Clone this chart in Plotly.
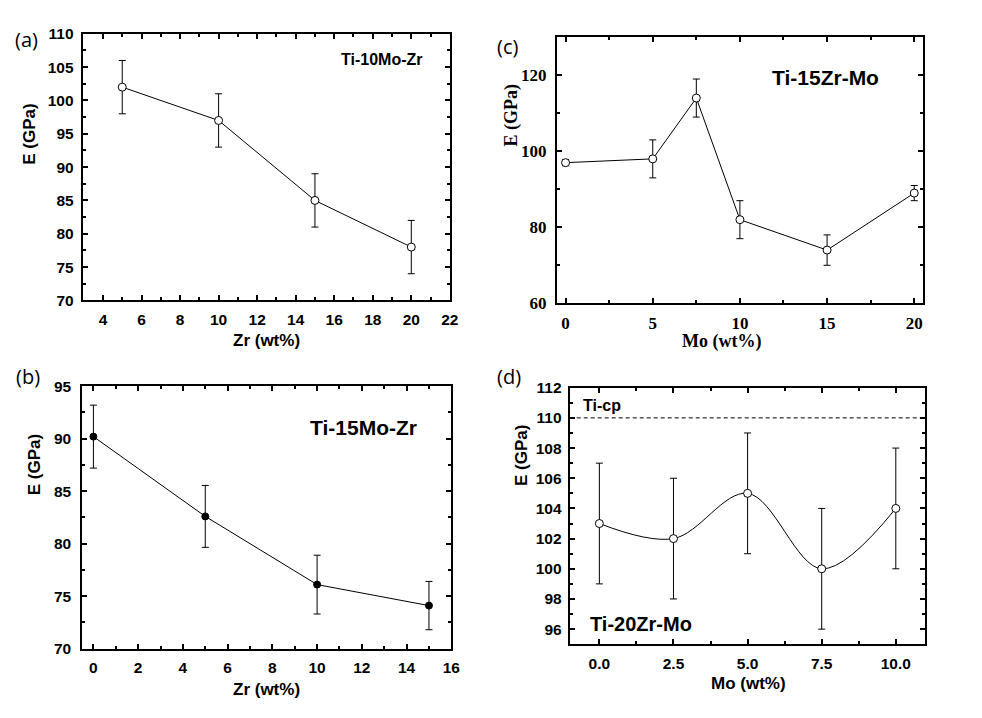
import plotly.graph_objects as go

W, H = 982, 718

# ---------------- data ----------------
# (a) Ti-10Mo-Zr
a_zr = [5, 10, 15, 20]
a_E = [102, 97, 85, 78]
a_err = [4, 4, 4, 4]

# (b) Ti-15Mo-Zr
b_zr = [0, 5, 10, 15]
b_E = [90.2, 82.6, 76.1, 74.1]
b_err = [3.0, 2.95, 2.8, 2.3]

# (c) Ti-15Zr-Mo
c_mo = [0, 5, 7.5, 10, 15, 20]
c_E = [97, 98, 114, 82, 74, 89]
c_err = [0.8, 5, 5, 5, 4, 2]

# (d) Ti-20Zr-Mo
d_mo = [0, 2.5, 5, 7.5, 10]
d_E = [103, 102, 105, 100, 104]
d_err = [4, 4, 4, 4, 4]
ti_cp = 110

# ---------------- helpers ----------------
def px(x):
    return x / W

def py(y):
    return 1 - y / H

SANS = "Liberation Sans"
SERIF = "Liberation Serif"

fig = go.Figure()

def add_series(x, y, err, xa, ya, filled=False, shape="linear", msize=8):
    fig.add_trace(go.Scatter(
        x=x, y=y, xaxis=xa, yaxis=ya, mode="lines+markers",
        line=dict(color="black", width=1, shape=shape),
        marker=dict(symbol="circle", size=msize,
                    color="black" if filled else "white",
                    line=dict(color="black", width=1)),
        error_y=dict(type="data", array=err, color="black", thickness=1, width=3.5),
        showlegend=False, hoverinfo="x+y"))

add_series(a_zr, a_E, a_err, "x", "y")
add_series(c_mo, c_E, c_err, "x2", "y2")
add_series(b_zr, b_E, b_err, "x3", "y3", filled=True, msize=7)
add_series(d_mo, d_E, d_err, "x4", "y4", shape="spline")


def axis(domain, anchor, rng, dtick, minor_dtick, family, size, tick0=None, fmt=None, standoff=4):
    d = dict(
        domain=domain, anchor=anchor, range=rng, dtick=dtick,
        showline=True, linewidth=2, linecolor="black", mirror="allticks",
        ticks="inside", ticklen=5, tickwidth=2, tickcolor="black",
        showgrid=False, zeroline=False,
        tickfont=dict(family=family, size=size, color="black", weight="bold"),
        minor=dict(ticks="inside", ticklen=3, tickwidth=1.5, tickcolor="black",
                   dtick=minor_dtick, showgrid=False),
        ticklabelstandoff=standoff,
    )
    if tick0 is not None:
        d["tick0"] = tick0
    if fmt is not None:
        d["tickformat"] = fmt
    return d

# panel frames (pixel positions)
A = dict(l=83.5, r=454, t=25.5, b=299.3)
C = dict(l=562, r=931.5, t=29, b=302.3)
B = dict(l=83, r=455.5, t=387.5, b=657)
D = dict(l=575, r=934, t=389, b=652.5)

def xd(p):
    return [px(p["l"]), px(p["r"])]

def yd(p):
    return [py(p["b"]), py(p["t"])]

layout = dict(
    width=W, height=H, margin=dict(l=0, r=0, t=0, b=0),
    paper_bgcolor="white", plot_bgcolor="white", showlegend=False,
    xaxis=axis(xd(A), "y", [2.95, 22], 2, 1, SANS, 15.5, tick0=0, standoff=4),
    yaxis=axis(yd(A), "x", [70, 110], 5, 2.5, SANS, 15.5, tick0=0, standoff=4),
    xaxis2=axis(xd(C), "y2", [-0.5, 20.5], 5, 2.5, SERIF, 17, tick0=0, standoff=3),
    yaxis2=axis(yd(C), "x2", [60, 130], 20, 10, SERIF, 17, tick0=0, standoff=5),
    xaxis3=axis(xd(B), "y3", [-0.5, 16], 2, 1, SANS, 15.5, tick0=0, standoff=4),
    yaxis3=axis(yd(B), "x3", [70, 95], 5, 2.5, SANS, 15.5, tick0=0, standoff=6),
    xaxis4=axis(xd(D), "y4", [-1, 11], 2.5, 1.25, SANS, 15.5, tick0=0, fmt=".1f", standoff=4),
    yaxis4=axis(yd(D), "x4", [95, 112], 2, 1, SANS, 15.5, tick0=0, standoff=3),
)
fig.update_layout(**layout)

# Ti-cp reference line
fig.add_shape(type="line", xref="x4 domain", yref="y4", x0=0, x1=1, y0=ti_cp, y1=ti_cp,
              line=dict(color="black", width=1, dash="4px,3px"))

def ann(text, x, y, family=SANS, size=15, bold=True, angle=0):
    fig.add_annotation(
        text=text, x=px(x), y=py(y), xref="paper", yref="paper",
        xanchor="center", yanchor="middle", showarrow=False, textangle=angle,
        font=dict(family=family, size=size, color="black", weight="bold" if bold else "normal"))

# panel letters
ann("(a)", 27, 31, family="Open Sans", size=20, bold=False)
ann("(c)", 512, 39, family="Open Sans", size=20, bold=False)
ann("(b)", 28, 378, family="Open Sans", size=20, bold=False)
ann("(d)", 514, 378, family="Open Sans", size=20, bold=False)

# series labels
ann("Ti-10Mo-Zr", 385, 52, size=16)
ann("Ti-15Mo-Zr", 367, 430, size=21)
ann("Ti-15Zr-Mo", 833, 70, size=21)
ann("Ti-20Zr-Mo", 647, 632, size=20)
ann("Ti-cp", 608, 407, size=16)

# axis titles
ann("E (GPa)", 29.5, 129, size=17, angle=-90)
ann("Zr (wt%)", 269, 341, size=17)
ann("E (GPa)", 35, 468, size=17, angle=-90)
ann("Zr (wt%)", 269, 699, size=17)
ann("E (GPa)", 516, 109, family=SERIF, size=18, angle=-90)
ann("Mo (wt%)", 728, 342, family=SERIF, size=18)
ann("E (GPa)", 527, 459, size=17, angle=-90)
ann("Mo (wt%)", 755, 693, size=17)

fig.write_html("out.html", config={"displayModeBar": False},
               post_script="document.body.style.margin='0';document.body.style.overflow='hidden';")
